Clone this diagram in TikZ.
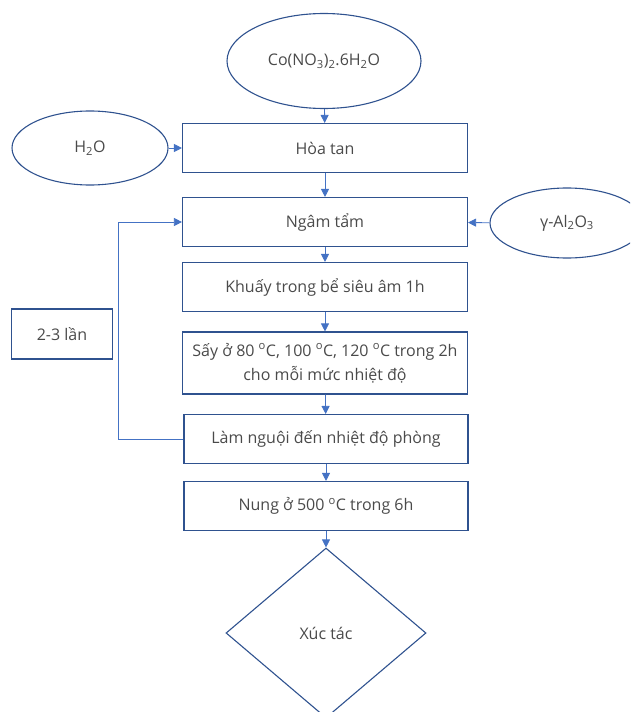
\documentclass[tikz,border=0pt]{standalone}
\usepackage{fontspec}
\setmainfont{Open Sans}
\usetikzlibrary{shapes.geometric,arrows.meta}

\definecolor{boxblue}{HTML}{2F528F}
\definecolor{linkblue}{HTML}{4472C4}
\definecolor{txtgray}{HTML}{4A4A4A}

\tikzset{
  stepbox/.style={draw=boxblue,line width=1.1pt,minimum width=285,minimum height=49,inner sep=0,align=center},
  source/.style={ellipse,draw=boxblue,line width=1.1pt,inner sep=0},
  link/.style={draw=linkblue,line width=0.8pt,-{Triangle[length=8pt,width=8pt]}},
}

\begin{document}
\begin{tikzpicture}[x=1pt,y=-1pt,text=txtgray,font=\fontsize{16}{24}\selectfont]
  \useasboundingbox (0,0) rectangle (630,712);
  \clip (0,0) rectangle (630,712);

  % Inputs
  \node[source,minimum width=194,minimum height=95] (salt) at (324,61) {Co(NO\textsubscript{3})\textsubscript{2}.6H\textsubscript{2}O};
  \node[source,minimum width=156,minimum height=74] (water) at (90,148) {H\textsubscript{2}O};
  \node[source,minimum width=154,minimum height=70] (support) at (567,223) {γ-Al\textsubscript{2}O\textsubscript{3}};

  % Steps
  \node[stepbox] (dissolve) at (325,148) {Hòa tan};
  \node[stepbox] (soak) at (325,222) {Ngâm tẩm};
  \node[stepbox] (stir) at (325,287) {Khuấy trong bể siêu âm 1h};
  \node[stepbox,minimum height=62] (dry) at (325,363) {Sấy ở 80 \textsuperscript{o}C, 100 \textsuperscript{o}C, 120 \textsuperscript{o}C trong 2h\\cho mỗi mức nhiệt độ};
  \node[stepbox,minimum width=284] (cool) at (326,439) {Làm nguội đến nhiệt độ phòng};
  \node[stepbox,minimum width=284] (calcine) at (326,506) {Nung ở 500 \textsuperscript{o}C trong 6h};
  \node[diamond,draw=boxblue,line width=1.1pt,inner sep=0,minimum width=200,minimum height=170] (catalyst) at (326,633) {Xúc tác};
  \node[draw=boxblue,line width=1.1pt,minimum width=101,minimum height=50,inner sep=0] (repeat) at (62,334) {2-3 lần};

  % Flow
  \draw[link] (salt) -- (dissolve);
  \draw[link] (water) -- (dissolve);
  \draw[link] (support) -- (soak);
  \foreach \a/\b in {dissolve/soak,soak/stir,stir/dry,dry/cool,cool/calcine,calcine/catalyst}
    \draw[link] (\a) -- (\b);
  \draw[link,line width=0.6pt] (cool.west) -- ++(-65,0) |- (soak.west);

\end{tikzpicture}
\end{document}
